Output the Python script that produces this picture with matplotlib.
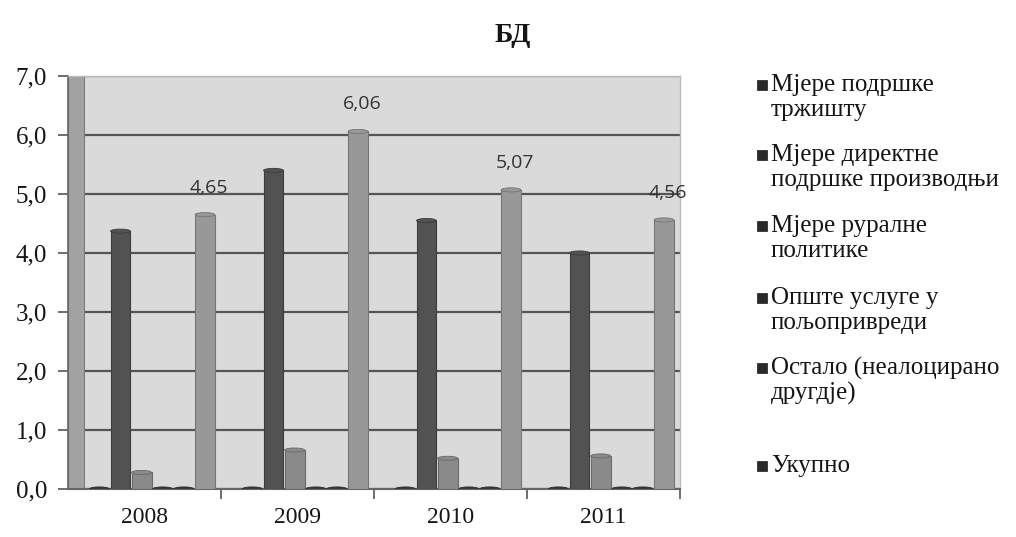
import matplotlib
matplotlib.use("Agg")
import matplotlib.pyplot as plt
from matplotlib.patches import Ellipse, Rectangle
import numpy as np

years = ["2008", "2009", "2010", "2011"]
series_names = [
    "Мјере подршке\nтржишту",
    "Мјере директне\nподршке производњи",
    "Мјере руралне\nполитике",
    "Опште услуге у\nпољопривреди",
    "Остало (неалоцирано\nдругдје)",
    "Укупно",
]
market_support = [0.0, 0.0, 0.0, 0.0]
direct_support = [4.37, 5.40, 4.55, 4.00]
rural_policy = [0.28, 0.66, 0.52, 0.56]
general_services = [0.0, 0.0, 0.0, 0.0]
other = [0.0, 0.0, 0.0, 0.0]
total = [4.65, 6.06, 5.07, 4.56]
yticks = [0, 1, 2, 3, 4, 5, 6, 7]

all_series = [market_support, direct_support, rural_policy, general_services, other, total]
colors = ["#3a3a3a", "#525252", "#8a8a8a", "#3a3a3a", "#3a3a3a", "#989898"]
edge = ["#2a2a2a", "#3c3c3c", "#6a6a6a", "#2a2a2a", "#2a2a2a", "#757575"]

fig = plt.figure(figsize=(10.16, 5.37), dpi=100)
fig.patch.set_facecolor("white")
ax = fig.add_axes([68 / 1016, 1 - 489 / 537, 612 / 1016, 413 / 537])
ax.set_facecolor("#dadada")

x = np.arange(len(years))
slot = 0.138
bw = 0.13
shift = 0.05
for i, vals in enumerate(all_series):
    pos = x + shift + (i - 2.5) * slot
    ax.bar(pos, vals, width=bw, color=colors[i], edgecolor=edge[i], linewidth=0.8, zorder=3)
    for p, v in zip(pos, vals):
        ax.add_patch(Ellipse((p, v), bw, 0.07, facecolor=colors[i], edgecolor=edge[i],
                             linewidth=0.6, zorder=4))

for p, v in zip(x + shift + 2.5 * slot, total):
    ax.annotate(f"{v:.2f}".replace(".", ","), (p, v), xytext=(3, 13), textcoords="offset points",
                ha="center", va="bottom", fontsize=14, color="#333333",
                family=["Open Sans", "DejaVu Sans"])

# 3D-like left wall strip
ax.add_patch(Rectangle((0, 0), 0.026, 1, transform=ax.transAxes, facecolor="#a2a2a2",
                       edgecolor="#7a7a7a", linewidth=0.8, zorder=2))

ax.set_xlim(-0.5, 3.5)
ax.set_ylim(0, 7)
ax.set_yticks(yticks)
ax.set_yticklabels([f"{t:.1f}".replace(".", ",") for t in yticks],
                   fontsize=18, family=["Liberation Serif"], color="#151515")
ax.set_xticks(x)
ax.set_xticklabels(years, fontsize=17, family=["Liberation Serif"], color="#151515")
ax.tick_params(axis="x", length=0, pad=13)
ax.tick_params(axis="y", length=7, width=1.2, color="#555555", pad=8)
ax.set_xticks([0.5, 1.5, 2.5, 3.5], minor=True)
ax.tick_params(axis="x", which="minor", length=7, width=1.2, color="#555555", direction="out")
ax.yaxis.grid(True, color="#555555", linewidth=1.6, zorder=1)
ax.set_axisbelow(True)
for s in ["top", "right"]:
    ax.spines[s].set_color("#bbbbbb")
    ax.spines[s].set_linewidth(1.0)
ax.spines["left"].set_color("#666666")
ax.spines["left"].set_linewidth(1.2)
ax.spines["bottom"].set_color("#666666")
ax.spines["bottom"].set_linewidth(1.5)

fig.text(0.505, 0.933, "БД", ha="center", va="center", fontsize=20, fontweight="bold",
         family=["Liberation Serif"], color="#151515")

# legend
leg_x = 757 / 1016
first_line_px = [85, 155, 226, 298, 368, 466]
line_gap_px = 25
for name, yy in zip(series_names, first_line_px):
    fig.patches.append(Rectangle((leg_x, 1 - (yy + 5) / 537), 10 / 1016, 10 / 537,
                                 transform=fig.transFigure, facecolor="#2a2a2a",
                                 edgecolor="#1a1a1a", linewidth=0.5))
    for k, line in enumerate(name.split("\n")):
        fig.text(771 / 1016, 1 - (yy + k * line_gap_px) / 537, line, ha="left", va="center",
                 fontsize=18, family=["Liberation Serif"], color="#151515")

fig.savefig("out.png", dpi=100)
